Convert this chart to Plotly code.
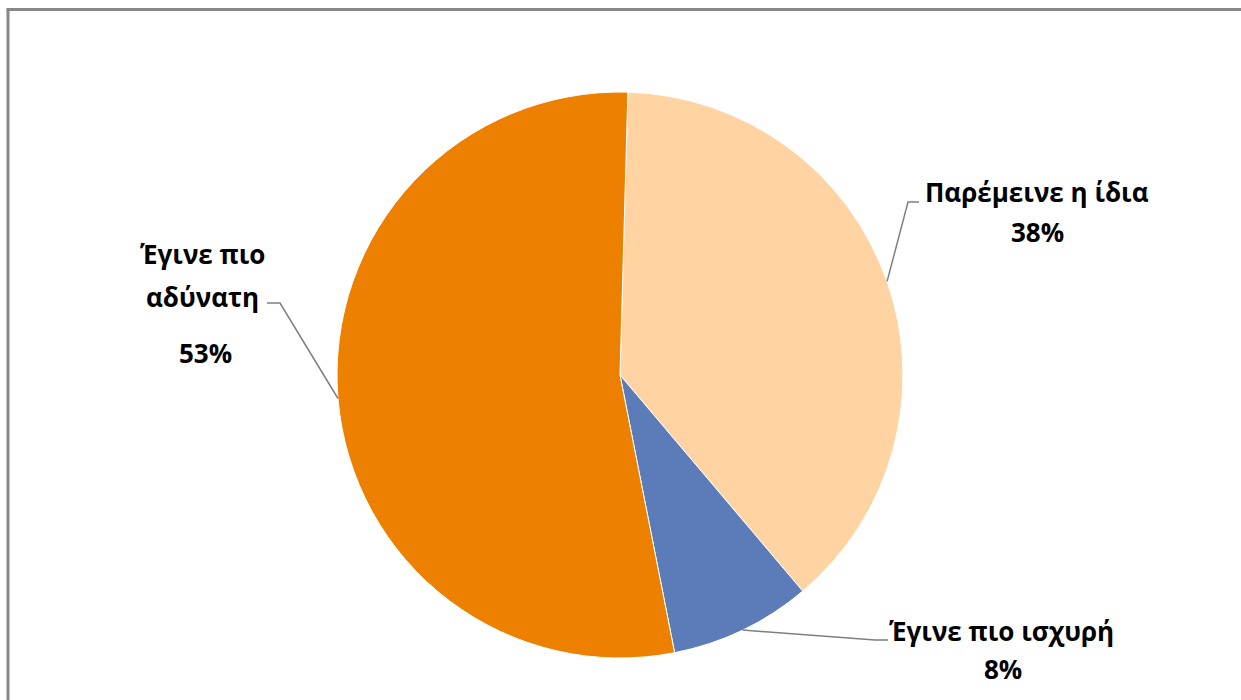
import math
import plotly.graph_objects as go

# data
labels = ["Παρέμεινε η ίδια", "Έγινε πιο ισχυρή", "Έγινε πιο αδύνατη"]
values = [38, 8, 53]
pct_text = ["38%", "8%", "53%"]
colors = ["#FFD3A2", "#5B7CB9", "#EE8000"]

W, H = 1241, 700
cx, cy, R = 620, 375, 283
rot = 1.6


def px(x, y):
    return x / W, 1 - y / H


fig = go.Figure(go.Pie(
    labels=labels, values=values, sort=False, direction="clockwise",
    rotation=rot, textinfo="none", hoverinfo="label+percent",
    marker=dict(colors=colors, line=dict(color="white", width=1)),
    domain=dict(x=[(cx - R) / W, (cx + R) / W], y=[1 - (cy + R) / H, 1 - (cy - R) / H]),
    showlegend=False,
))

# mid angles of slices -> leader start on the pie edge
tot = sum(values)
acc = rot
edge = []
for v in values:
    mid = acc + v / tot * 360 / 2
    acc += v / tot * 360
    a = math.radians(mid)
    edge.append((cx + R * math.sin(a), cy - R * math.cos(a)))

# elbow / end points of leaders (pixels)
leaders = [
    [(908, 202), (919, 202)],
    [(875, 640), (888, 640)],
    [(280, 303), (267, 303)],
]

shapes = []
for (ex, ey), pts in zip(edge, leaders):
    path = "M {} {}".format(*px(ex, ey))
    for p in pts:
        path += " L {} {}".format(*px(*p))
    shapes.append(dict(type="path", path=path, xref="paper", yref="paper",
                       line=dict(color="#7F7F7F", width=1.5)))

# chart frame (left and top)
shapes.append(dict(type="line", xref="paper", yref="paper",
                   x0=8 / W, x1=8 / W, y0=0, y1=1 - 9.5 / H, line=dict(color="#878787", width=3)))
shapes.append(dict(type="line", xref="paper", yref="paper",
                   x0=6.5 / W, x1=1, y0=1 - 9.5 / H, y1=1 - 9.5 / H, line=dict(color="#878787", width=3)))

font = dict(family="Open Sans", size=26, color="black")
lines = [
    ("Παρέμεινε η ίδια", 1037, 192),
    (pct_text[0], 1037, 232),
    ("Έγινε πιο ισχυρή", 1001, 631),
    (pct_text[1], 1003, 669),
    ("Έγινε πιο", 203, 254),
    ("αδύνατη", 202, 297),
    (pct_text[2], 205, 353),
]
annotations = []
for t, x, y in lines:
    ax, ay = px(x, y)
    annotations.append(dict(text="<b>" + t + "</b>", x=ax, y=ay, xref="paper", yref="paper",
                            xanchor="center", yanchor="middle", showarrow=False, font=font))

fig.update_layout(
    width=W, height=H, margin=dict(l=0, r=0, t=0, b=0),
    paper_bgcolor="white", plot_bgcolor="white",
    shapes=shapes, annotations=annotations,
)
fig.write_html("out.html", config={"displayModeBar": False},
               post_script="document.body.style.margin='0';")
